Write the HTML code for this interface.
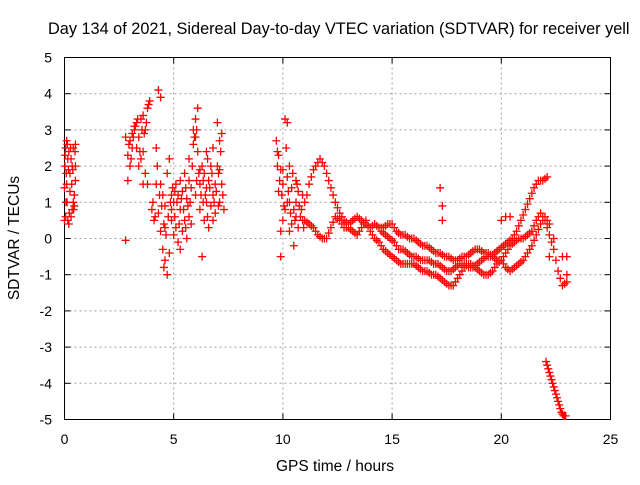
<!DOCTYPE html>
<html><head><meta charset="utf-8"><style>
body{margin:0;background:#fff;width:640px;height:480px;overflow:hidden}
svg{font-family:"Liberation Sans",sans-serif;font-size:14px}
</style></head><body>
<svg id="chart" width="640" height="480" xmlns="http://www.w3.org/2000/svg">
<text x="48" y="34" fill="#000" style="font-size:16.3px">Day 134 of 2021, Sidereal Day-to-day VTEC variation (SDTVAR) for receiver yell</text>
<g id="grid"></g>
<g id="axes"></g>
<g id="marks"></g>
<text x="335" y="471" text-anchor="middle" style="font-size:15.5px">GPS time / hours</text>
<text transform="translate(19,238) rotate(-90)" text-anchor="middle" style="font-size:15.5px">SDTVAR / TECUs</text>
</svg>
<script>
const xTicks=[0,5,10,15,20,25];
const yTicks=[-5,-4,-3,-2,-1,0,1,2,3,4,5];
const earlyX=[0,0.02,0.05,0.05,0.1,0.1,0.15,0.2,0.2,0.25,0.3,0.3,0.35,0.4,0.4,0.45,0.5,0.5,0,0.15,0.08,0.12,0.25,0.35,0.45,0.5];
const earlyY=[1.4,2.0,2.5,0.6,1.5,2.7,0.5,2.4,0.4,1.8,2.2,0.6,0.8,2.5,1.0,1.2,2.0,2.6,0.5,2.2,1.8,1.0,1.3,2.0,0.9,1.6];
const early2X=[0.03,0.07,0.13,0.18,0.22,0.28,0.33,0.38,0.42,0.48];
const early2Y=[2.3,1.0,2.6,1.9,0.7,2.5,1.5,1.9,0.8,2.4];
const midX=[2.8,2.8,2.9,2.9,3.0,3.0,3.1,3.2,3.3,3.4,3.5,3.5,3.6,3.6,3.7,3.7,3.8,3.9,3.8,3.3,3.4,3.6,3.2,3.1];
const midY=[-0.05,2.8,1.6,2.3,2.0,2.7,2.5,3.0,3.2,2.8,3.3,2.2,1.5,3.4,3.0,1.8,3.6,3.8,1.5,2.5,2.0,2.4,3.1,2.9];
const mid2X=[2.95,3.05,3.15,3.25,3.35,3.45,3.55,3.65,3.75,3.85];
const mid2Y=[2.6,2.2,2.8,3.1,3.3,2.4,3.0,2.9,3.2,3.7];
const dayX=[4.0,4.1,4.2,4.2,4.3,4.4,4.4,4.5,4.5,4.6,4.6,4.7,4.7,4.8,4.8,4.9,4.9,5.0,5.0,5.1,5.1,5.2,5.2,5.3,5.3,5.4,5.4,5.5,5.5,5.6,5.6,5.7,5.7,5.8,5.8,5.9,5.9,6.0,6.0,6.1,6.1,6.2,6.2,6.3,6.3,6.4,6.4,6.5,6.5,6.6,6.6,6.7,6.7,6.8,6.8,6.9,6.9,7.0,7.0,7.1,7.1,7.2,7.2,7.3,4.4,4.3,6.0,5.3,4.6,4.9,5.7,6.2,6.5,6.8,7.1];
const dayY=[0.8,0.5,1.5,2.5,4.1,3.9,0.2,-0.3,1.2,-0.6,0.9,-1.0,1.8,-0.4,2.2,0.5,1.2,0.1,1.0,0.3,1.5,1.2,-0.1,0.8,1.6,0.2,1.3,0.5,1.8,0.0,1.1,1.6,2.2,1.4,0.4,2.6,3.0,3.3,1.2,3.6,2.4,1.5,0.8,2.0,-0.5,0.5,1.8,2.4,1.0,1.6,0.3,2.0,0.9,1.2,2.5,1.5,0.7,3.2,2.0,1.0,2.7,2.9,1.5,0.8,1.5,0.7,2.8,-0.3,0.3,0.8,0.6,1.9,1.4,0.5,1.9];
const day2X=[4.05,4.15,4.25,4.35,4.45,4.55,4.65,4.75,4.85,4.95,5.05,5.15,5.25,5.35,5.45,5.55,5.65,5.75,5.85,5.95,6.05,6.15,6.25,6.35,6.45,6.55,6.65,6.75,6.85,6.95,7.05,7.15,7.25,4.55,5.05,5.55,6.05,6.55,7.05,6.35];
const day2Y=[1.0,0.6,2.0,1.2,0.9,0.4,0.1,0.6,1.0,1.4,0.6,1.0,0.4,1.1,0.8,1.4,0.9,1.0,2.0,2.8,3.0,1.8,1.2,1.6,1.2,2.2,1.4,1.8,1.0,1.3,1.8,2.4,1.2,-0.8,1.3,0.3,1.6,0.6,0.9,1.0];
const eveX=[9.7,9.8,9.8,9.9,9.9,10.0,10.0,10.1,10.2,10.2,10.3,10.3,10.4,10.5,10.5,10.6,10.7,10.7,10.8,10.9,10.9,9.75,10.1,10.4,10.6,17.2,17.3,17.3,20.0,20.2,20.4,22.2,22.4,22.8,23.0,23.0];
const eveY=[2.7,2.3,1.3,1.9,-0.5,1.5,0.5,3.3,3.2,1.0,2.0,0.2,1.4,0.8,-0.2,1.0,1.3,0.3,0.6,1.2,0.5,2.0,0.8,0.4,1.6,1.4,0.9,0.5,0.5,0.6,0.6,-0.5,0.0,-0.5,-0.5,-1.0];
const eve2X=[9.75,9.85,9.95,10.05,10.15,10.25,10.35,10.45,10.55,10.65,10.75,10.85,10.95,10.0,10.3,10.6,9.9,10.2];
const eve2Y=[2.4,1.6,1.2,0.9,2.5,1.3,0.7,1.8,0.5,1.5,0.9,0.8,0.3,1.9,1.0,0.6,0.2,1.7];
const traceAX=[11.0,11.2,11.4,11.6,11.8,12.0,12.2,12.4,12.6,12.8,13.0,13.2,13.4,13.6,13.8,14.0,14.2,14.4,14.6,14.8,15.0,15.2,15.4,15.6,15.8,16.0,16.2,16.4,16.6,16.8,17.0,17.2,17.4,17.6,17.8,18.0,18.2,18.4,18.6,18.8,19.0,19.2,19.4,19.6,19.8,20.0,20.2,20.4,20.6,20.8,21.0,21.2,21.4,21.6,21.8,22.0,22.2,22.4,22.6,22.8,23.0];
const traceAY=[1.0,1.5,1.9,2.1,2.1,1.8,1.4,1.0,0.7,0.5,0.4,0.5,0.6,0.5,0.4,0.3,0.4,0.3,0.3,0.4,0.4,0.2,0.1,0.1,0.0,0.0,-0.1,-0.2,-0.2,-0.3,-0.4,-0.4,-0.5,-0.5,-0.6,-0.6,-0.5,-0.5,-0.4,-0.3,-0.3,-0.4,-0.4,-0.5,-0.6,-0.6,-0.4,-0.2,-0.1,0.0,0.0,0.1,0.2,0.5,0.7,0.5,0.1,-0.3,-0.9,-1.3,-1.2];
const traceA2X=[11.1,11.3,11.5,11.7,11.9,12.1,12.3,12.5,12.7,12.9,13.1,13.3,13.5,13.7,13.9,14.1,14.3,14.5,14.7,14.9,15.1,15.3,15.5,15.7,15.9,16.1,16.3,16.5,16.7,16.9,17.1,17.3,17.5,17.7,17.9,18.1,18.3,18.5,18.7,18.9,19.1,19.3,19.5,19.7,19.9,20.1,20.3,20.5,20.7,20.9,21.1,21.3,21.5,21.7,21.9,22.1,22.3,22.5,22.7,22.9];
const traceA2Y=[1.2,1.7,2.0,2.2,2.0,1.6,1.2,0.85,0.6,0.45,0.45,0.55,0.55,0.45,0.35,0.35,0.35,0.3,0.35,0.4,0.3,0.15,0.1,0.05,0.0,-0.05,-0.15,-0.2,-0.25,-0.35,-0.4,-0.45,-0.5,-0.55,-0.6,-0.55,-0.5,-0.45,-0.35,-0.3,-0.35,-0.4,-0.45,-0.55,-0.6,-0.5,-0.3,-0.15,-0.05,0.0,0.05,0.15,0.35,0.6,0.6,0.3,-0.1,-0.6,-1.1,-1.25];
const traceBX=[11.0,11.2,11.4,11.6,11.8,12.0,12.2,12.4,12.6,12.8,13.0,13.2,13.4,13.6,13.8,14.0,14.2,14.4,14.6,14.8,15.0,15.2,15.4,15.6,15.8,16.0,16.2,16.4,16.6,16.8,17.0,17.2,17.4,17.6,17.8,18.0,18.2,18.4,18.6,18.8,19.0,19.2,19.4,19.6,19.8,20.0,20.2,20.4,20.6,20.8,21.0,21.2,21.4,21.6,21.8,22.0,22.2];
const traceBY=[0.5,0.4,0.3,0.1,0.0,0.0,0.3,0.6,0.5,0.3,0.3,0.2,0.1,0.3,0.5,0.2,0.0,-0.1,-0.3,-0.4,-0.5,-0.6,-0.7,-0.7,-0.7,-0.7,-0.8,-0.9,-0.9,-1.0,-1.0,-1.1,-1.2,-1.3,-1.3,-1.1,-0.9,-0.7,-0.7,-0.8,-0.9,-1.0,-1.0,-0.9,-0.7,-0.6,-0.8,-0.9,-0.8,-0.7,-0.6,-0.4,-0.2,0.1,0.4,0.6,0.4];
const traceB2X=[11.1,11.3,11.5,11.7,11.9,12.1,12.3,12.5,12.7,12.9,13.1,13.3,13.5,13.7,13.9,14.1,14.3,14.5,14.7,14.9,15.1,15.3,15.5,15.7,15.9,16.1,16.3,16.5,16.7,16.9,17.1,17.3,17.5,17.7,17.9,18.1,18.3,18.5,18.7,18.9,19.1,19.3,19.5,19.7,19.9,20.1,20.3,20.5,20.7,20.9,21.1,21.3,21.5,21.7,21.9,22.1];
const traceB2Y=[0.45,0.35,0.2,0.05,0.0,0.15,0.45,0.55,0.4,0.3,0.25,0.15,0.2,0.4,0.35,0.1,-0.05,-0.2,-0.35,-0.45,-0.55,-0.65,-0.7,-0.7,-0.7,-0.75,-0.85,-0.9,-0.95,-1.0,-1.05,-1.15,-1.25,-1.3,-1.2,-1.0,-0.8,-0.7,-0.75,-0.85,-0.95,-1.0,-0.95,-0.8,-0.65,-0.7,-0.85,-0.85,-0.75,-0.65,-0.5,-0.3,-0.05,0.25,0.5,0.5];
const traceCX=[14.5,14.7,14.9,15.1,15.3,15.5,15.7,15.9,16.1,16.3,16.5,16.7,16.9,17.1,17.3,17.5,17.7,17.9,18.1,18.3,18.5,18.7,18.9,19.1,19.3,19.5,19.7,19.9,20.1,20.3,20.5,20.7,20.9,21.1,21.3,21.5,21.7,21.9,22.1];
const traceCY=[0.2,0.1,0.0,-0.1,-0.3,-0.3,-0.4,-0.5,-0.5,-0.6,-0.6,-0.6,-0.7,-0.7,-0.8,-0.9,-0.9,-0.8,-0.7,-0.7,-0.8,-0.8,-0.7,-0.6,-0.5,-0.5,-0.4,-0.3,-0.2,-0.1,0.0,0.2,0.5,0.8,1.1,1.4,1.6,1.6,1.7];
const traceC2X=[14.6,14.8,15.0,15.2,15.4,15.6,15.8,16.0,16.2,16.4,16.6,16.8,17.0,17.2,17.4,17.6,17.8,18.0,18.2,18.4,18.6,18.8,19.0,19.2,19.4,19.6,19.8,20.0,20.2,20.4,20.6,20.8,21.0,21.2,21.4,21.6,21.8,22.0];
const traceC2Y=[0.15,0.05,-0.05,-0.2,-0.3,-0.35,-0.45,-0.5,-0.55,-0.6,-0.6,-0.65,-0.7,-0.75,-0.85,-0.9,-0.85,-0.75,-0.7,-0.75,-0.8,-0.75,-0.65,-0.55,-0.5,-0.45,-0.35,-0.25,-0.15,-0.05,0.1,0.35,0.65,0.95,1.25,1.5,1.6,1.65];
const traceDX=[22.05,22.1,22.15,22.2,22.25,22.3,22.35,22.4,22.45,22.5,22.55,22.6,22.65,22.7,22.75,22.8,22.85,22.9,22.95];
const traceDY=[-3.4,-3.5,-3.6,-3.7,-3.8,-3.9,-4.0,-4.1,-4.2,-4.3,-4.4,-4.5,-4.6,-4.7,-4.8,-4.85,-4.9,-4.9,-4.9];

const L=64.5,R=610.5,T=57.5,B=419.5,NS="http://www.w3.org/2000/svg";
const xs=v=>L+(v-0)/25*(R-L);
const ys=v=>B-(v+5)/10*(B-T);
function mk(tag,attrs,parent){const e=document.createElementNS(NS,tag);for(const k in attrs)e.setAttribute(k,attrs[k]);parent.appendChild(e);return e;}
const grid=document.getElementById('grid'),axes=document.getElementById('axes'),marks=document.getElementById('marks');
xTicks.forEach(t=>{const x=xs(t);
 if(t>0&&t<25){const g=mk('line',{x1:x,x2:x,y1:T,y2:B,stroke:'#a0a0a0','stroke-dasharray':'2,3'},grid);}
 mk('line',{x1:x,x2:x,y1:B,y2:B-6,stroke:'#000'},axes);mk('line',{x1:x,x2:x,y1:T,y2:T+6,stroke:'#000'},axes);
 const tx=mk('text',{x:x,y:444,'text-anchor':'middle'},axes);tx.textContent=t;
 
 });
yTicks.forEach(t=>{const y=ys(t);
 if(t>-5&&t<5){const g=mk('line',{x1:L,x2:R,y1:y,y2:y,stroke:'#a0a0a0','stroke-dasharray':'2,3'},grid);}
 mk('line',{x1:L,x2:L+6,y1:y,y2:y,stroke:'#000'},axes);mk('line',{x1:R,x2:R-6,y1:y,y2:y,stroke:'#000'},axes);
 const tx=mk('text',{x:52,y:y+5,'text-anchor':'end'},axes);tx.textContent=t;
 
 });
const fr=mk('rect',{x:L,y:T,width:R-L,height:B-T,fill:'none',stroke:'#000'},axes);


let d='';
[[earlyX,earlyY],[early2X,early2Y],[midX,midY],[mid2X,mid2Y],[dayX,dayY],[day2X,day2Y],[eveX,eveY],[eve2X,eve2Y],[traceAX,traceAY],[traceA2X,traceA2Y],[traceBX,traceBY],[traceB2X,traceB2Y],[traceCX,traceCY],[traceC2X,traceC2Y],[traceDX,traceDY]].forEach(([X,Y])=>{
 X.forEach((xv,i)=>{const x=xs(xv),y=ys(Y[i]);d+=`M${x-4},${y}h8M${x},${y-4}v8`;});});
const p=mk('path',{d:d,stroke:'#ff0000','stroke-width':1.3,fill:'none'},marks);


</script>
</body></html>
